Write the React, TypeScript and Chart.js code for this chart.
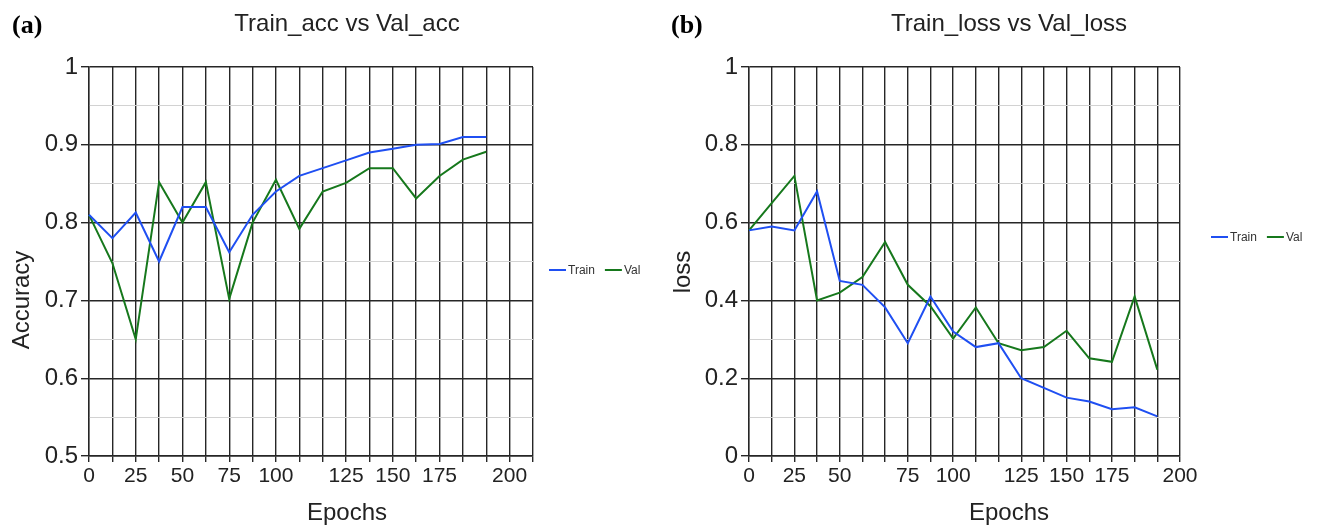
import React, { useEffect, useRef } from 'react';
import { Chart, registerables } from 'chart.js';

Chart.register(...registerables);

const FONT = "'Liberation Sans', Arial, Helvetica, sans-serif";
const SERIF = "'Liberation Serif', 'Times New Roman', serif";
const TEXT = '#222222';
const BLUE = '#1f4ff2';
const GREEN = '#16781c';
const MAJOR = '#262626';
const MINOR = '#d2d2d2';

// ---- data ----
const seriesNames = ['Train', 'Val'];

const accEpochLabels = ['0', '', '25', '', '50', '', '75', '', '100', '', '', '125', '', '150', '', '175', '', '', '200', ''];
const lossEpochLabels = ['0', '', '25', '', '50', '', '', '75', '', '100', '', '', '125', '', '150', '', '175', '', '', '200'];

const trainAcc = [0.81, 0.78, 0.813, 0.75, 0.82, 0.82, 0.762, 0.81, 0.84, 0.86, 0.87, 0.88, 0.89, 0.895, 0.9, 0.901, 0.91, 0.91];
const valAcc = [0.81, 0.748, 0.65, 0.852, 0.8, 0.852, 0.702, 0.8, 0.855, 0.792, 0.84, 0.851, 0.87, 0.87, 0.831, 0.86, 0.881, 0.891];

const trainLoss = [0.58, 0.59, 0.58, 0.68, 0.45, 0.44, 0.382, 0.29, 0.41, 0.32, 0.28, 0.29, 0.2, 0.175, 0.15, 0.14, 0.12, 0.125, 0.102];
const valLoss = [0.58, 0.65, 0.72, 0.4, 0.42, 0.46, 0.55, 0.44, 0.385, 0.302, 0.382, 0.29, 0.272, 0.28, 0.322, 0.251, 0.242, 0.41, 0.222];

const accMajorTicks = [0.5, 0.6, 0.7, 0.8, 0.9, 1];
const accMinorTicks = [0.55, 0.65, 0.75, 0.85, 0.95];
const lossMajorTicks = [0, 0.2, 0.4, 0.6, 0.8, 1];
const lossMinorTicks = [0.1, 0.3, 0.5, 0.7, 0.9];

const panelTextPlugin = {
  id: 'panelText',
  afterDraw(chart: any, _args: any, opts: any) {
    const ctx = chart.ctx as CanvasRenderingContext2D;
    ctx.save();
    ctx.fillStyle = '#000';
    ctx.font = `bold 26px ${SERIF}`;
    ctx.textAlign = 'left';
    ctx.textBaseline = 'alphabetic';
    ctx.fillText(opts.letter, opts.letterX, opts.letterY);

    ctx.fillStyle = TEXT;
    ctx.font = `24px ${FONT}`;
    ctx.textAlign = 'center';
    ctx.fillText(opts.title, opts.centerX, opts.titleY);
    ctx.fillText(opts.xTitle, opts.centerX, opts.xTitleY);

    ctx.save();
    ctx.translate(opts.yTitleX, opts.yTitleY);
    ctx.rotate(-Math.PI / 2);
    ctx.textBaseline = 'middle';
    ctx.fillText(opts.yTitle, 0, 0);
    ctx.restore();

    // legend
    ctx.font = `12px ${FONT}`;
    ctx.textAlign = 'left';
    ctx.textBaseline = 'middle';
    let x = opts.legendX;
    const y = opts.legendY;
    chart.data.datasets.forEach((ds: any) => {
      ctx.strokeStyle = ds.borderColor;
      ctx.lineWidth = 2;
      ctx.beginPath();
      ctx.moveTo(x, y);
      ctx.lineTo(x + 17, y);
      ctx.stroke();
      ctx.fillStyle = '#333';
      ctx.fillText(ds.label, x + 19, y + 0.5);
      x += 19 + ctx.measureText(ds.label).width + 10;
    });
    ctx.restore();
  },
};

const near = (a: number, list: number[]) => list.some((v) => Math.abs(v - a) < 1e-6);

type PanelProps = {
  width: number;
  left: number;
  labels: string[];
  train: number[];
  val: number[];
  majors: number[];
  minors: number[];
  yMin: number;
  yMax: number;
  plotRight: number;
  text: any;
};

function Panel(p: PanelProps) {
  const ref = useRef<HTMLCanvasElement | null>(null);
  useEffect(() => {
    if (!ref.current) return;
    const chart = new Chart(ref.current, {
      type: 'line',
      data: {
        labels: p.labels,
        datasets: [
          { label: seriesNames[0], data: p.train, borderColor: BLUE, backgroundColor: BLUE, borderWidth: 2, pointRadius: 0, tension: 0, fill: false },
          { label: seriesNames[1], data: p.val, borderColor: GREEN, backgroundColor: GREEN, borderWidth: 2, pointRadius: 0, tension: 0, fill: false },
        ],
      },
      options: {
        responsive: false,
        animation: false,
        devicePixelRatio: 1,
        layout: { padding: { top: 67, right: p.width - p.plotRight, bottom: 0, left: 0 } },
        plugins: {
          legend: { display: false },
          tooltip: { enabled: false },
          title: { display: false },
          panelText: p.text,
        } as any,
        scales: {
          x: {
            type: 'category',
            offset: false,
            afterFit: (s: any) => { s.height = 70; },
            ticks: { autoSkip: false, maxRotation: 0, minRotation: 0, color: TEXT, font: { family: FONT, size: 21 }, padding: 2 },
            grid: { color: MAJOR, lineWidth: 1.4, tickLength: 6, tickColor: MAJOR, drawOnChartArea: true },
            border: { display: true, color: MAJOR, width: 1.4 },
          },
          y: {
            type: 'linear',
            min: p.yMin,
            max: p.yMax,
            afterFit: (s: any) => { s.width = 89; },
            afterBuildTicks: (s: any) => {
              s.ticks = [...p.majors, ...p.minors].sort((a, b) => a - b).map((v) => ({ value: v }));
            },
            ticks: {
              color: TEXT,
              font: { family: FONT, size: 24 },
              padding: 3,
              callback: (v: any) => (near(Number(v), p.majors) ? String(Number(v)) : ''),
            },
            grid: {
              color: (c: any) => (c.tick && near(c.tick.value, p.majors) ? MAJOR : MINOR),
              lineWidth: (c: any) => (c.tick && near(c.tick.value, p.majors) ? 1.4 : 1),
              tickColor: (c: any) => (c.tick && near(c.tick.value, p.majors) ? MAJOR : 'rgba(0,0,0,0)'),
              tickLength: 8,
            },
            border: { display: true, color: MAJOR, width: 1.4 },
          },
        },
      },
      plugins: [panelTextPlugin as any],
    });
    return () => chart.destroy();
  }, []);
  return (
    <canvas
      ref={ref}
      width={p.width}
      height={526}
      style={{ position: 'absolute', left: p.left, top: 0, width: p.width, height: 526 }}
    />
  );
}

export default function App() {
  return (
    <div style={{ position: 'absolute', left: 0, top: 0, width: 1318, height: 526, background: '#fff', overflow: 'hidden' }}>
      <Panel
        width={660}
        left={0}
        labels={accEpochLabels}
        train={trainAcc}
        val={valAcc}
        majors={accMajorTicks}
        minors={accMinorTicks}
        yMin={0.5}
        yMax={1}
        plotRight={533}
        text={{
          letter: '(a)', letterX: 12, letterY: 33,
          title: 'Train_acc vs Val_acc', centerX: 347, titleY: 31,
          xTitle: 'Epochs', xTitleY: 520,
          yTitle: 'Accuracy', yTitleX: 22, yTitleY: 300,
          legendX: 549, legendY: 270,
        }}
      />
      <Panel
        width={658}
        left={660}
        labels={lossEpochLabels}
        train={trainLoss}
        val={valLoss}
        majors={lossMajorTicks}
        minors={lossMinorTicks}
        yMin={0}
        yMax={1}
        plotRight={520}
        text={{
          letter: '(b)', letterX: 11, letterY: 33,
          title: 'Train_loss vs Val_loss', centerX: 349, titleY: 31,
          xTitle: 'Epochs', xTitleY: 520,
          yTitle: 'loss', yTitleX: 23, yTitleY: 272,
          legendX: 551, legendY: 237,
        }}
      />
    </div>
  );
}
